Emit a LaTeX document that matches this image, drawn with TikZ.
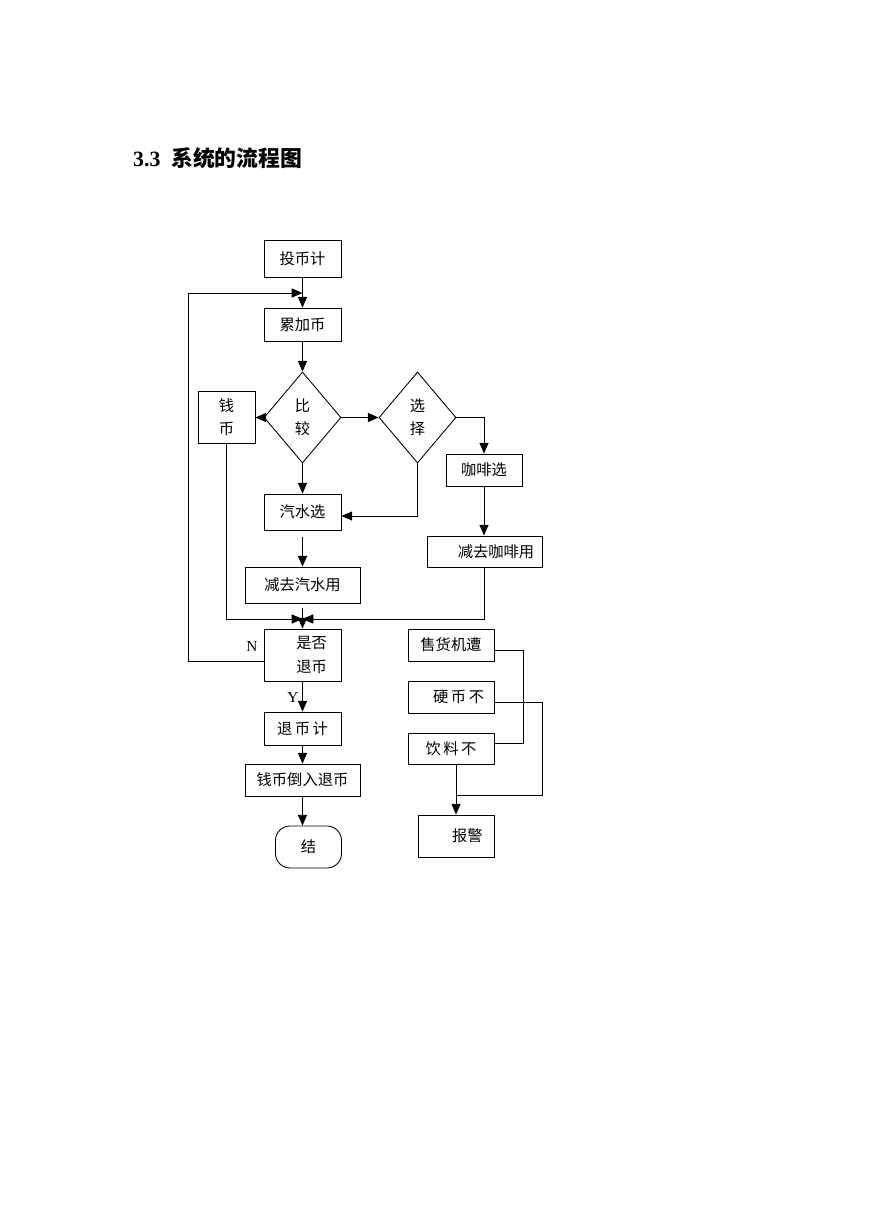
\documentclass[tikz,border=0pt]{standalone}
\usepackage{fontspec}
\setmainfont{Liberation Serif}
\newfontfamily\cjk{Noto Sans CJK SC}
\usetikzlibrary{arrows.meta,shapes.geometric}
\newcommand{\pix}{0.24166mm}

\begin{document}
\begin{tikzpicture}[x=\pix,y=-\pix,
    box/.style={draw,line width=0.6pt,inner sep=0pt,align=center,font=\cjk\fontsize{10.5pt}{16pt}\selectfont},
    dia/.style={box,diamond,minimum width=77*\pix,minimum height=91*\pix},
    arr/.style={line width=0.6pt,-{Triangle[length=2.6mm,width=2.2mm]}},
    ln/.style={line width=0.6pt}]
    \useasboundingbox (0,0) rectangle (869,1228);
    \node[anchor=west,font=\bfseries\fontsize{15pt}{17pt}\selectfont] (title) at (128,158) {3.3\ \ {\cjk 系统的流程图}};
    % left column
    \node[box,minimum width=77*\pix,minimum height=37*\pix] (tou) at (302.5,258.5) {投币计};
    \node[box,minimum width=77*\pix,minimum height=33*\pix] (lei) at (302.5,324.5) {累加币};
    \node[dia] (bj) at (302.5,417.5) {比\\较};
    \node[dia] (xz) at (417.5,417.5) {选\\择};
    \node[box,minimum width=57*\pix,minimum height=52*\pix] (qb) at (226.5,417.5) {钱\\币};
    \node[box,minimum width=76*\pix,minimum height=32*\pix] (kf) at (484,470) {咖啡选};
    \node[box,minimum width=77*\pix,minimum height=36*\pix] (qs) at (302.5,512) {汽水选};
    \node[box,minimum width=115*\pix,minimum height=31*\pix] (jk) at (484.5,551.5) {\hspace*{1.5em}减去咖啡用};
    \node[box,minimum width=115*\pix,minimum height=36*\pix] (js) at (302.5,585) {减去汽水用};
    \node[box,minimum width=77*\pix,minimum height=52*\pix] (tb) at (302.5,655) {\hspace*{1.2em}是否\\\hspace*{1.2em}退币};
    \node[box,minimum width=77*\pix,minimum height=33*\pix] (tj) at (302.5,728.5) {退\,币\,计};
    \node[box,minimum width=115*\pix,minimum height=32*\pix] (dr) at (302.5,780) {钱币倒入退币};
    \node[box,rounded corners=3.5mm,minimum width=66*\pix,minimum height=42*\pix] (jie) at (308.5,847) {结};
    % right column
    \node[box,minimum width=86*\pix,minimum height=32*\pix] (sh) at (451,645) {售货机遭};
    \node[box,minimum width=86*\pix,minimum height=32*\pix] (yb) at (451,697) {\hspace*{1em}硬\,币\,不};
    \node[box,minimum width=86*\pix,minimum height=31*\pix] (yl) at (451,748.5) {饮\,料\,不};
    \node[box,minimum width=76*\pix,minimum height=42*\pix] (bj2) at (456,836) {\hspace*{1.5em}报警};
    \node[font=\fontsize{10.5pt}{12pt}\selectfont] (n) at (252,646) {N};
    \node[font=\fontsize{10.5pt}{12pt}\selectfont] (y) at (293,697) {Y};
    \coordinate (back) at (302.5,293);
    \coordinate (nx) at (188,661);
    \coordinate (m) at (302.5,619);
    \coordinate (k) at (456,795);
    % connectors
    \draw[arr] (tou) -- (lei);
    \draw[arr] (lei) -- (bj);
    \draw[arr] (bj.west) -- (qb.east);
    \draw[arr] (bj.east) -- (xz.west);
    \draw[arr] (xz.east) -| (kf.north);
    \draw[arr] (bj.south) -- (qs.north);
    \draw[arr] (xz.south) |- ([yshift=-4*\pix]qs.east);
    \draw[arr] (kf.south) -- (kf.south |- jk.north);
    \draw[arr,shorten <=1.7mm] (qs.south) -- (js.north);
    \draw[arr] (qb.south) |- (m);
    \draw[arr] (jk.south) |- (m);
    \draw[arr,shorten <=1.2mm] (js.south) -- (tb.north);
    \draw[arr] (tb.west |- nx) -- (nx) |- (back);
    \draw[arr] (tb) -- (tj);
    \draw[arr] (tj) -- (dr);
    \draw[arr] (dr.south) -- (dr.south |- jie.north);
    \draw[ln] ([yshift=-5*\pix]sh.east) -- ++(29,0) |- ([yshift=5*\pix]yl.east);
    \draw[ln] ([yshift=-5*\pix]yb.east) -- ++(48,0) |- (k);
    \draw[arr] (yl.south -| k) -- (k |- bj2.north);
\end{tikzpicture}
\end{document}
